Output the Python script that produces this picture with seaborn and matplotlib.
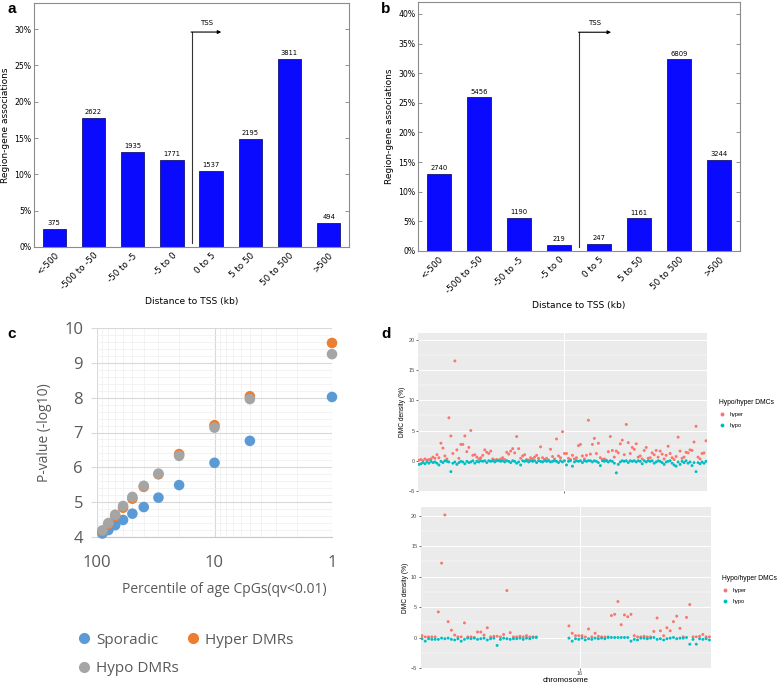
import numpy as np
import pandas as pd
import matplotlib
matplotlib.use("Agg")
import matplotlib.pyplot as plt
import seaborn as sns
from matplotlib.ticker import MultipleLocator, LogLocator, NullFormatter, FixedLocator, FuncFormatter
from matplotlib.lines import Line2D

# ---- a / b : region-gene associations by distance to TSS
tss_bins = ["<-500", "-500 to -50", "-50 to -5", "-5 to 0", "0 to 5", "5 to 50", "50 to 500", ">500"]
counts_a = [375, 2622, 1935, 1771, 1537, 2195, 3811, 494]
counts_b = [2740, 5456, 1190, 219, 247, 1161, 6809, 3244]

# ---- c : p-value vs percentile of age CpGs
percentile = [90, 80, 70, 60, 50, 40, 30, 20, 10, 5, 1]
p_sporadic = [4.10, 4.20, 4.34, 4.49, 4.67, 4.86, 5.13, 5.49, 6.13, 6.76, 8.02]
p_hyper = [4.17, 4.37, 4.60, 4.84, 5.10, 5.44, 5.80, 6.38, 7.21, 8.04, 9.57]
p_hypo = [4.19, 4.40, 4.64, 4.89, 5.15, 5.47, 5.82, 6.33, 7.14, 7.96, 9.25]

# ---- d : DMC density along chromosome (top / bottom panels)
hyper_top = [
    0.1, 0.2, 0.0, 0.3, 0.1, 0.2, 0.3, 0.6, 0.4, 1.0,
    0.5, 2.9, 2.1, 0.8, 0.3, 7.1, 4.1, 1.2, 16.5, 1.8,
    0.4, 2.7, 2.7, 4.1, 1.5, 2.2, 5.0, 0.9, 1.0, 0.6,
    0.3, 0.5, 0.9, 1.8, 1.4, 1.2, 1.6, 0.3, 0.1, 0.2,
    0.1, 0.3, 0.5, 0.2, 1.4, 1.1, 1.6, 2.0, 1.3, 4.0,
    2.0, 0.4, 0.8, 1.0, 0.2, 0.1, 0.5, 0.3, 0.6, 0.9,
    0.4, 2.3, 0.5, 0.2, 0.4, 0.1, 1.9, 0.7, 0.3, 3.6,
    0.8, 0.5, 4.8, 1.2, 1.2, 0.4, 0.2, 0.9, 0.3, 0.5,
    2.5, 2.7, 0.8, 0.3, 0.9, 6.7, 1.1, 2.7, 3.7, 1.2,
    2.9, 0.5, 0.2, 0.3, 0.1, 1.5, 4.0, 1.7, 0.6, 1.6,
    1.3, 2.8, 3.4, 1.0, 6.0, 3.0, 1.2, 2.2, 1.9, 2.8,
    0.6, 0.8, 0.3, 1.7, 2.2, 0.4, 0.5, 1.3, 1.0, 1.7,
    0.6, 1.6, 1.1, 0.3, 0.9, 2.4, 1.2, 0.5, 0.2, 0.7,
    3.9, 1.6, 0.4, 0.6, 1.4, 1.3, 1.8, 1.7, 3.1, 5.7,
    0.6, 0.3, 1.2, 1.3, 3.3,
]
hypo_top = [
    -0.6, -0.5, -0.3, -0.5, -0.2, -0.4, -0.1, -0.3, -0.2, -0.4,
    -0.7, -0.1, -0.3, 0.0, -0.1, -0.2, -1.8, -0.4, -0.2, -0.6,
    -0.3, -0.1, -0.2, -0.5, -0.1, -0.3, -0.2, 0.0, -0.4, -0.1,
    -0.2, 0.0, -0.1, 0.0, -0.3, 0.0, -0.1, 0.0, -0.2, 0.0,
    0.0, -0.1, 0.0, -0.2, 0.0, -0.1, -0.3, 0.0, -0.1, -0.4,
    -0.2, -0.7, 0.0, -0.1, 0.0, -0.2, 0.0, -0.1, 0.0, -0.3,
    0.0, -0.1, -0.2, 0.0, -0.1, 0.0, -0.2, -0.1, 0.0, -0.1,
    -0.3, 0.0, -0.2, 0.0, -0.7, -0.1, 0.0, -0.9, -0.2, 0.0,
    -0.1, 0.0, -0.3, 0.0, -0.1, 0.0, 0.0, -0.2, 0.0, -0.1,
    -0.3, -0.8, 0.0, -0.1, 0.0, -0.2, 0.0, -0.1, -0.4, -2.0,
    -0.6, -0.2, 0.0, -0.1, 0.0, -0.3, 0.0, -0.1, 0.0, -0.2,
    0.0, -0.1, -0.5, 0.0, -0.2, 0.0, -0.1, 0.0, -0.4, -0.2,
    0.0, -0.1, -0.3, -0.6, -0.2, -0.1, 0.0, -0.4, -0.7, -0.9,
    -0.2, -0.6, -0.1, -0.3, 0.0, -0.4, -0.2, -0.8, -0.3, -1.8,
    -0.3, -0.5, -0.2, -0.4, -0.1,
]
gap = [None] * 9
hyper_bottom = [
    0.3, 0.1, 0.1, 0.1, 0.1, 4.2, 12.2, 20.1, 2.6, 1.2,
    0.4, 0.1, 0.1, 2.4, 0.1, 0.1, 0.0, 0.9, 0.9, 0.4,
    1.6, 0.1, 0.2, 0.2, 0.1, 0.5, 7.7, 0.8, 0.1, 0.1,
    0.2, 0.1, 0.3, 0.1, 0.1, 0.1,
] + gap + [
    1.9, 0.7, 0.3, 0.3, 0.3, 0.1, 1.4, 0.1, 0.7, 0.2,
    0.1, 0.1, 0.1, 3.6, 3.8, 5.9, 2.1, 3.7, 3.4, 3.8,
    0.3, 0.1, 0.1, 0.2, 0.1, 0.1, 1.0, 3.2, 1.1, 0.3,
    1.6, 1.1, 2.6, 3.5, 1.5, 0.1, 3.3, 5.4, 0.1, 0.1,
    0.2, 0.5, 0.1, 0.1,
]
hypo_bottom = [
    -0.2, -0.6, -0.2, -0.3, -0.3, -0.3, -0.1, -0.2, -0.1, -0.3,
    -0.4, -0.2, -0.6, -0.3, -0.1, -0.2, -0.1, -0.3, -0.2, -0.1,
    -0.4, -0.2, -0.1, -1.3, -0.3, -0.1, -0.2, -0.3, -0.2, -0.2,
    -0.1, -0.3, -0.1, -0.2, 0.0, 0.0,
] + gap + [
    -0.1, -0.6, -0.2, -0.3, -0.1, -0.4, -0.2, -0.3, -0.1, -0.2,
    -0.1, -0.2, 0.0, 0.0, 0.0, 0.0, 0.0, 0.0, 0.0, -0.6,
    -0.3, -0.4, -0.1, -0.1, -0.2, -0.1, 0.0, -0.3, -0.2, -0.4,
    -0.2, -0.1, 0.0, -0.2, -0.1, -0.1, 0.0, -1.1, -0.3, -1.1,
    -0.2, -0.3, -0.2, -0.4,
]

W, H = 784, 686
fig = plt.figure(figsize=(W / 100, H / 100), dpi=100)


def px_axes(l, t, r, b):
    return fig.add_axes([l / W, 1 - b / H, (r - l) / W, (b - t) / H])


# ---------------- a / b bar charts
def tss_panel(ax, counts, ymax, tss_top, arrow_end, label_y):
    pct = [100 * c / sum(counts) for c in counts]
    sns.barplot(x=tss_bins, y=pct, ax=ax, color="#0a0aff", saturation=1, width=0.6,
                edgecolor="#14147a", linewidth=0.6, errorbar=None)
    ax.bar_label(ax.containers[0], labels=[str(c) for c in counts], padding=2, fontsize=4.9)
    ax.set_xlim(-0.52, 7.52)
    ax.set_ylim(0, ymax)
    ax.yaxis.set_major_locator(MultipleLocator(5))
    ax.yaxis.set_major_formatter(FuncFormatter(lambda v, p: f"{v:.0f}%"))
    ax.tick_params(axis="y", direction="in", right=True, length=3, width=0.6,
                   color="#808080", labelsize=5.6, pad=2)
    ax.tick_params(axis="x", length=0, labelsize=6.3, pad=3)
    plt.setp(ax.get_xticklabels(), rotation=45, ha="right", rotation_mode="anchor")
    for s in ax.spines.values():
        s.set_color("#8c8c8c")
    ax.set_xlabel("Distance to TSS (kb)", fontsize=6.6)
    ax.set_ylabel("Region-gene associations", fontsize=6.5, labelpad=3)
    ax.plot([3.5, 3.5], [0.6, tss_top], color="#333333", lw=0.8)
    ax.annotate("", xy=(arrow_end, tss_top), xytext=(3.49, tss_top),
                arrowprops=dict(arrowstyle="-|>", color="black", lw=0.8,
                                mutation_scale=5, shrinkA=0, shrinkB=0))
    ax.text(3.88, label_y, "TSS", fontsize=5, ha="center", va="center")


ax_a = px_axes(34, 3, 349, 247)
tss_panel(ax_a, counts_a, 33.6, 29.6, 4.26, 30.9)
ax_b = px_axes(418, 2, 740, 251)
tss_panel(ax_b, counts_b, 42.0, 36.9, 4.3, 38.4)

# ---------------- c scatter (Excel style)
c_font = "Open Sans"
c_colors = {"Sporadic": "#5B9BD5", "Hyper DMRs": "#ED7D31", "Hypo DMRs": "#A5A5A5"}
df_c = pd.DataFrame({
    "percentile": percentile * 3,
    "p": p_sporadic + p_hyper + p_hypo,
    "series": ["Sporadic"] * len(percentile) + ["Hyper DMRs"] * len(percentile)
              + ["Hypo DMRs"] * len(percentile),
})
ax_c = px_axes(97, 328, 332, 537)
sns.scatterplot(data=df_c, x="percentile", y="p", hue="series", palette=c_colors, s=58,
                edgecolor="none", ax=ax_c, legend=False, clip_on=False, zorder=3)
ax_c.set_xscale("log")
ax_c.set_xlim(100, 1)
ax_c.set_ylim(4, 10)
ax_c.set_xticks([100, 10, 1])
ax_c.set_xticklabels(["100", "10", "1"])
ax_c.xaxis.set_minor_locator(LogLocator(base=10, subs=range(2, 10)))
ax_c.xaxis.set_minor_formatter(NullFormatter())
ax_c.set_yticks(range(4, 11))
ax_c.yaxis.set_minor_locator(MultipleLocator(0.2))
ax_c.grid(which="major", color="#d9d9d9", lw=0.8)
ax_c.grid(which="minor", color="#eeeeee", lw=0.5)
ax_c.set_axisbelow(True)
for name, s in ax_c.spines.items():
    s.set_visible(name == "bottom")
ax_c.spines["bottom"].set_color("#c8c8c8")
ax_c.tick_params(axis="x", which="both", length=0, pad=13, labelsize=12, labelcolor="#595959")
ax_c.tick_params(axis="y", which="major", length=4, color="#d9d9d9", pad=6, labelsize=12,
                 labelcolor="#595959")
ax_c.tick_params(axis="y", which="minor", length=0)
for lab in ax_c.get_xticklabels() + ax_c.get_yticklabels():
    lab.set_family(c_font)
ax_c.set_xlabel("Percentile of age CpGs(qv<0.01)", fontsize=10, color="#595959", family=c_font)
ax_c.set_ylabel("P-value (-log10)", fontsize=10, color="#595959", family=c_font)
ax_c.xaxis.set_label_coords(0.54, -0.215)
ax_c.yaxis.set_label_coords(-0.19, 0.5)
c_handles = [Line2D([], [], marker="o", ls="", color=c_colors[k], markersize=7)
             for k in ["Sporadic", "Hypo DMRs", "Hyper DMRs"]]
fig.legend(c_handles, ["Sporadic", "Hypo DMRs", "Hyper DMRs"], ncol=2,
           loc="upper left", bbox_to_anchor=(70 / W, 1 - 625 / H), frameon=False,
           prop={"family": c_font, "size": 11}, labelcolor="#595959",
           handlelength=0.8, handletextpad=0.4, columnspacing=0.55, labelspacing=0.9,
           borderpad=0)

# ---------------- d DMC density panels (ggplot style)
d_font = "Liberation Sans"
d_colors = {"hyper": "#F8766D", "hypo": "#00BFC4"}


def dmc_panel(ax, hyper, hypo, ymax, xlim, xtick, xticklabel):
    n = len(hyper)
    df = pd.DataFrame({
        "pos": list(range(n)) * 2,
        "density": hyper + hypo,
        "DMC": ["hyper"] * n + ["hypo"] * n,
    }).dropna()
    sns.scatterplot(data=df, x="pos", y="density", hue="DMC", palette=d_colors, s=4.5,
                    edgecolor="none", ax=ax, legend=False)
    ax.set_facecolor("#EBEBEB")
    ax.set_ylim(-5, ymax)
    ax.set_xlim(*xlim)
    ax.set_yticks([-5, 0, 5, 10, 15, 20])
    ax.yaxis.set_minor_locator(FixedLocator([-2.5, 2.5, 7.5, 12.5, 17.5]))
    ax.set_xticks([xtick])
    ax.set_xticklabels([xticklabel])
    ax.grid(which="major", color="white", lw=0.7)
    ax.grid(which="minor", axis="y", color="white", lw=0.35)
    ax.set_axisbelow(True)
    for s in ax.spines.values():
        s.set_visible(False)
    ax.tick_params(which="major", length=1.5, width=0.5, color="#333333", labelsize=4,
                   labelcolor="#4D4D4D", pad=1)
    ax.tick_params(which="minor", length=0)
    for lab in ax.get_xticklabels() + ax.get_yticklabels():
        lab.set_family(d_font)
    ax.set_ylabel("DMC density (%)", fontsize=4.8, labelpad=1.5, family=d_font)
    ax.set_xlabel("")


def dmc_legend(x, y):
    h = [Line2D([], [], marker="o", ls="", color=d_colors[k], markersize=1.8)
         for k in ["hyper", "hypo"]]
    leg = fig.legend(h, ["hyper", "hypo"], title="Hypo/hyper DMCs", loc="upper left",
                     bbox_to_anchor=(x / W, 1 - y / H), frameon=False,
                     prop={"family": d_font, "size": 4}, alignment="left",
                     handlelength=1.2, handletextpad=0.8, labelspacing=1.1, borderpad=0)
    leg.get_title().set_fontsize(4.9)
    leg.get_title().set_family(d_font)


ax_d1 = px_axes(418, 332.5, 707, 491)
dmc_panel(ax_d1, hyper_top, hypo_top, 21.2, (-0.5, 144.5), 72.8, "")
dmc_legend(716, 396)
ax_d2 = px_axes(420.7, 507, 711, 668)
dmc_panel(ax_d2, hyper_bottom, hypo_bottom, 21.4, (-0.4, 88.5), 48.4, "16")
ax_d2.set_xlabel("chromosome", fontsize=5.8, labelpad=0.5, family=d_font)
dmc_legend(719, 572)

# panel letters
for letter, (x, y) in {"a": (7, 2), "b": (381, 2), "c": (7, 327), "d": (381, 327)}.items():
    fig.text(x / W, 1 - y / H, letter, fontsize=11, fontweight="bold", va="top",
             family="Liberation Sans")

fig.savefig("out.png", dpi=100)
